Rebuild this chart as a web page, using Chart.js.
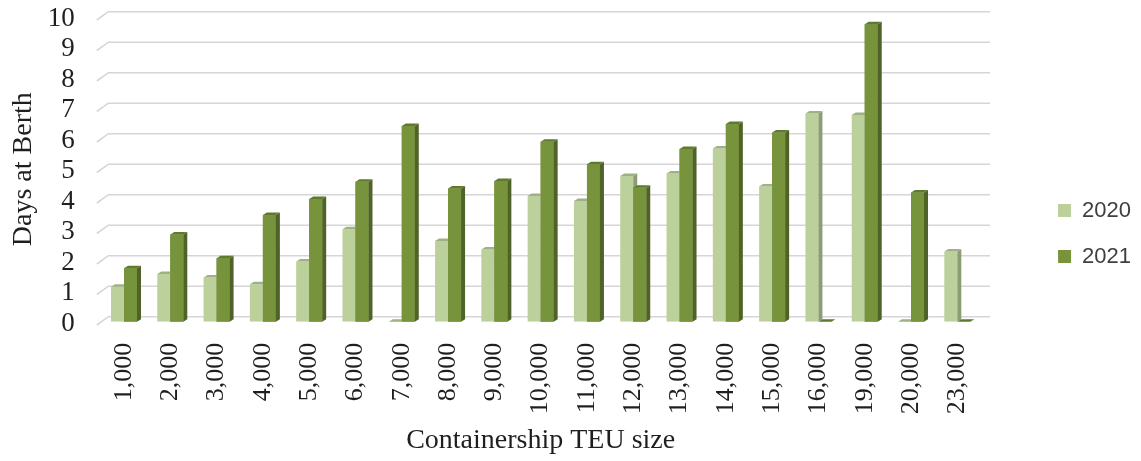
<!DOCTYPE html>
<html>
<head>
<meta charset="utf-8">
<script src="https://cdn.jsdelivr.net/npm/chart.js@4.4.1/dist/chart.umd.min.js"></script>
<style>
  html, body { margin: 0; padding: 0; background: #ffffff; }
  #wrap { width: 1141px; height: 461px; }
</style>
</head>
<body>
<div id="wrap"><canvas id="c" width="1141" height="461"></canvas></div>
<script>
// ---- data ----
const categories = ['1,000','2,000','3,000','4,000','5,000','6,000','7,000','8,000','9,000','10,000',
                    '11,000','12,000','13,000','14,000','15,000','16,000','19,000','20,000','23,000'];
const days2020 = [1.15, 1.56, 1.45, 1.23, 1.97, 3.03, 0, 2.65, 2.37, 4.12, 3.96, 4.78, 4.86, 5.68, 4.43, 6.83, 6.78, 0, 2.3];
const days2021 = [1.75, 2.86, 2.08, 3.5, 4.02, 4.59, 6.42, 4.37, 4.61, 5.9, 5.16, 4.39, 5.66, 6.48, 6.2, 0, 9.75, 4.24, 0];
const seriesNames = ['2020', '2021'];
const yMin = 0, yMax = 10, yStep = 1;

// ---- styles ----
const SERIF = '"Liberation Serif", "Times New Roman", serif';
const frontColors = ['#BBD09A', '#77933C'];
const sideColors  = ['#8C9C74', '#4F6328'];
const topColors   = ['#9EB184', '#5E7A2E'];
const DX = 4, DY = -2.5;          // depth offset of bar sides/top
const GRID_BACK_DX = 7.5, GRID_BACK_DY = -5, GRID_FRONT_DX = -4, GRID_FRONT_DY = 3.3;

const gridPlugin = {
  id: 'wallGrid',
  beforeDatasetsDraw(chart) {
    const ctx = chart.ctx, ys = chart.scales.y, area = chart.chartArea;
    ctx.save();
    ctx.strokeStyle = '#D6D6D6';
    ctx.lineWidth = 1.6;
    ys.ticks.forEach(t => {
      const y = ys.getPixelForValue(t.value);
      ctx.beginPath();
      ctx.moveTo(area.left + GRID_FRONT_DX, y + GRID_FRONT_DY);
      ctx.lineTo(area.left + GRID_BACK_DX, y + GRID_BACK_DY);
      ctx.lineTo(area.right + GRID_BACK_DX + 2, y + GRID_BACK_DY);
      ctx.stroke();
    });
    ctx.restore();
  }
};

const bar3dPlugin = {
  id: 'bar3d',
  afterDatasetsDraw(chart) {
    const ctx = chart.ctx;
    const metas = chart.data.datasets.map((d, i) => chart.getDatasetMeta(i));
    const n = chart.data.labels.length;
    ctx.save();
    for (let j = 0; j < n; j++) {
      metas.forEach((meta, di) => {
        const el = meta.data[j];
        if (!el) return;
        const p = el.getProps(['x', 'y', 'base', 'width'], true);
        const l = p.x - p.width / 2, r = p.x + p.width / 2;
        if (di > 0) el.draw(ctx);
        ctx.fillStyle = sideColors[di];
        ctx.beginPath();
        ctx.moveTo(r, p.y); ctx.lineTo(r + DX, p.y + DY);
        ctx.lineTo(r + DX, p.base + DY); ctx.lineTo(r, p.base);
        ctx.closePath(); ctx.fill();
        ctx.fillStyle = topColors[di];
        ctx.beginPath();
        ctx.moveTo(l, p.y); ctx.lineTo(l + DX, p.y + DY);
        ctx.lineTo(r + DX, p.y + DY); ctx.lineTo(r, p.y);
        ctx.closePath(); ctx.fill();
      });
    }
    ctx.restore();
  }
};

new Chart(document.getElementById('c'), {
  type: 'bar',
  data: {
    labels: categories,
    datasets: [
      { label: seriesNames[0], data: days2020, backgroundColor: frontColors[0], borderWidth: 0,
        categoryPercentage: 0.5616, barPercentage: 1 },
      { label: seriesNames[1], data: days2021, backgroundColor: frontColors[1], borderWidth: 0,
        categoryPercentage: 0.5616, barPercentage: 1 }
    ]
  },
  options: {
    responsive: false,
    animation: false,
    devicePixelRatio: 1,
    layout: { padding: { top: 6, left: 0, right: 0, bottom: 0 } },
    plugins: {
      tooltip: { enabled: false },
      legend: {
        position: 'right',
        align: 'center',
        labels: {
          boxWidth: 13, boxHeight: 13, padding: 24,
          color: '#404040',
          font: { family: '"Liberation Sans", Arial, sans-serif', size: 22 }
        }
      }
    },
    scales: {
      x: {
        offset: true,
        grid: { display: false, drawTicks: false },
        border: { display: false },
        ticks: {
          minRotation: 90, maxRotation: 90, autoSkip: false, padding: 21,
          color: '#1f1f1f',
          font: { family: SERIF, size: 26 }
        },
        title: {
          display: true, text: 'Containership TEU size', color: '#1f1f1f',
          font: { family: SERIF, size: 28 }, padding: { top: 0, bottom: 4 }
        },
        afterFit(scale) { scale.height = 139.3; }
      },
      y: {
        min: yMin, max: yMax,
        grid: { display: false, drawTicks: false },
        border: { display: false },
        ticks: {
          stepSize: yStep, autoSkip: false, padding: 26, labelOffset: 2,
          color: '#1f1f1f',
          font: { family: SERIF, size: 27 }
        },
        title: {
          display: true, text: 'Days at Berth', color: '#1f1f1f',
          font: { family: SERIF, size: 28 }, padding: { top: 7, bottom: 0 }
        },
        afterFit(scale) { scale.width = 100.85; scale.paddingTop = 16.7; }
      },
      y2: {
        position: 'right',
        display: true,
        grid: { display: false, drawTicks: false },
        border: { display: false },
        ticks: { display: false },
        afterFit(scale) { scale.width = 53.6; }
      }
    }
  },
  plugins: [gridPlugin, bar3dPlugin]
});
</script>
</body>
</html>
